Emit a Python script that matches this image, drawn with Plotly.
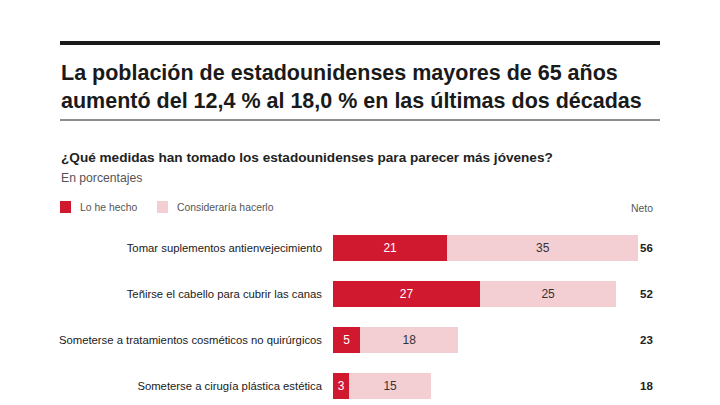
import plotly.graph_objects as go

categories = [
    "Tomar suplementos antienvejecimiento",
    "Teñirse el cabello para cubrir las canas",
    "Someterse a tratamientos cosméticos no quirúrgicos",
    "Someterse a cirugía plástica estética",
]
lo_he_hecho = [21, 27, 5, 3]
consideraria = [35, 25, 18, 15]
neto = [56, 52, 23, 18]

RED = "#d0192f"
PINK = "#f3cfd4"
FONT = "Liberation Sans"
OFF = 8  # page body margin
W, H = 712, 397

def px(x):
    return (x - OFF) / W

def py(y):
    return 1 - (y - OFF) / H

pos = list(range(len(categories)))

# y-axis: row 0 centre at 248 px, 46 px per row
row0, step = 248 - OFF, 46.0
y_top = -row0 / step
y_bot = (H - row0) / step

fig = go.Figure()
fig.add_trace(go.Bar(
    y=pos, x=lo_he_hecho, orientation="h", name="Lo he hecho",
    marker=dict(color=RED, line=dict(width=0)), width=0.55,
    text=[str(v) for v in lo_he_hecho], textposition="inside",
    insidetextanchor="middle", textangle=0,
    textfont=dict(color="white", size=12, family=FONT),
    constraintext="none",
))
fig.add_trace(go.Bar(
    y=pos, x=consideraria, orientation="h", name="Consideraría hacerlo",
    marker=dict(color=PINK, line=dict(width=0)), width=0.55,
    text=[str(v) for v in consideraria], textposition="inside",
    insidetextanchor="middle", textangle=0,
    textfont=dict(color="#333333", size=12, family=FONT),
    constraintext="none",
))

for p, n in zip(pos, neto):
    fig.add_annotation(x=px(655), xref="paper", y=p, yref="y", text=f"<b>{n}</b>",
                       showarrow=False, xanchor="right", yanchor="middle",
                       font=dict(size=11.5, color="#222222", family=FONT))

shapes = [
    dict(type="line", xref="paper", yref="paper", x0=px(60), x1=px(660), y0=py(43), y1=py(43),
         line=dict(color="#1a1a1a", width=4)),
    dict(type="line", xref="paper", yref="paper", x0=px(60), x1=px(660), y0=py(120), y1=py(120),
         line=dict(color="#1a1a1a", width=1)),
    dict(type="rect", xref="paper", yref="paper", x0=px(60), x1=px(71), y0=py(201), y1=py(213),
         fillcolor=RED, line=dict(width=0)),
    dict(type="rect", xref="paper", yref="paper", x0=px(157), x1=px(168), y0=py(201), y1=py(213),
         fillcolor=PINK, line=dict(width=0)),
]

annos = [
    dict(x=px(59), y=py(87), text="<b>La población de estadounidenses mayores de 65 años<br>aumentó del 12,4 % al 18,0 % en las últimas dos décadas</b>",
         xanchor="left", yanchor="middle", align="left",
         font=dict(size=21.5, color="#1a1a1a", family=FONT)),
    dict(x=px(59), y=py(157), text="<b>¿Qué medidas han tomado los estadounidenses para parecer más jóvenes?</b>",
         xanchor="left", yanchor="middle", font=dict(size=13.6, color="#222222", family=FONT)),
    dict(x=px(59), y=py(178), text="En porcentajes",
         xanchor="left", yanchor="middle", font=dict(size=12.2, color="#555555", family=FONT)),
    dict(x=px(78), y=py(207), text="Lo he hecho",
         xanchor="left", yanchor="middle", font=dict(size=10.4, color="#555555", family=FONT)),
    dict(x=px(175), y=py(207), text="Consideraría hacerlo",
         xanchor="left", yanchor="middle", font=dict(size=10.4, color="#555555", family=FONT)),
    dict(x=px(655), y=py(208), text="Neto",
         xanchor="right", yanchor="middle", font=dict(size=10.4, color="#555555", family=FONT)),
]
for a in annos:
    fig.add_annotation(xref="paper", yref="paper", showarrow=False, **a)

fig.update_layout(
    width=W, height=H,
    margin=dict(l=0, r=0, t=0, b=0),
    paper_bgcolor="white", plot_bgcolor="white",
    barmode="stack", showlegend=False,
    shapes=shapes,
    font=dict(family=FONT),
    xaxis=dict(domain=[px(333), px(660)], range=[0, 60], visible=False, fixedrange=True),
    yaxis=dict(range=[y_bot, y_top], tickvals=pos, ticktext=categories,
               showgrid=False, zeroline=False, showline=False, ticks="",
               ticklabelstandoff=10,
               tickfont=dict(size=11.3, color="#1a1a1a", family=FONT), fixedrange=True),
)

fig.write_html("out.html")
